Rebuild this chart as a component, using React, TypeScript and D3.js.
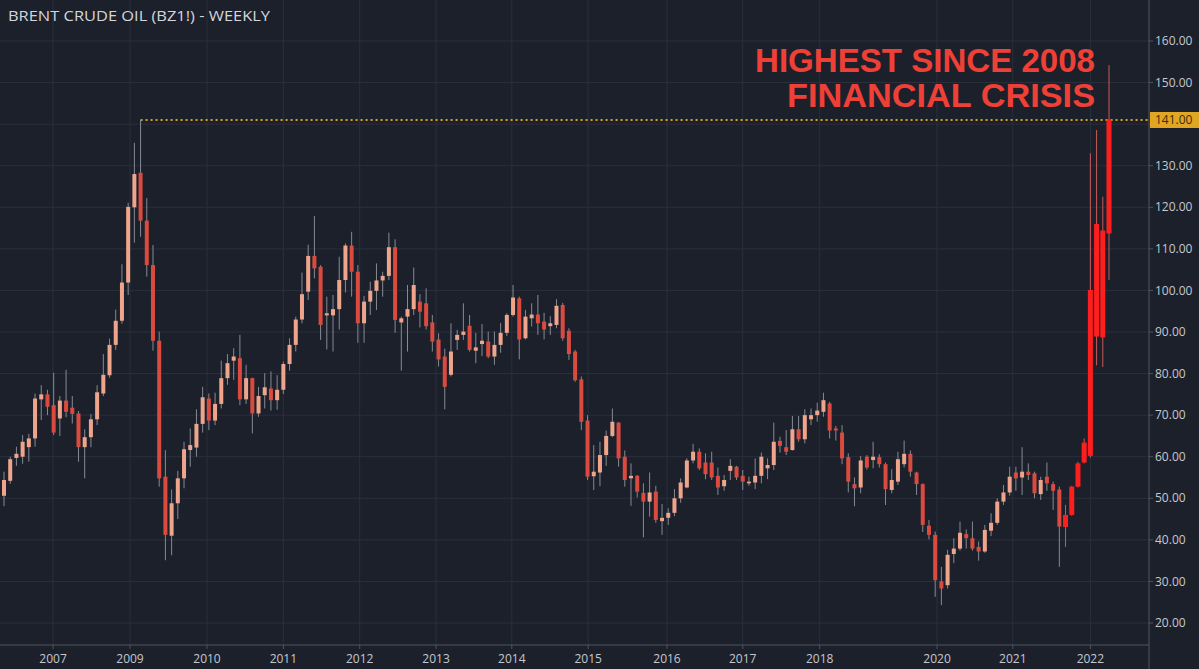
import React from "react";
import * as d3 from "d3";

const opens = [
  50.6, 54.2, 59.7, 60, 62.3, 64.4, 73.8, 75, 72.4, 69.2,
  73.5, 71.8, 70.4, 62.3, 64.7, 69, 75.2, 79.6, 86.9, 92.7,
  101.9, 120, 128.3, 116.8, 106.1, 87.9, 55.2, 41, 48.8, 54.8,
  61.6, 62.2, 67.9, 74, 68.7, 72.7, 78.9, 83.1, 83.7, 73.8,
  78.9, 70.4, 74.8, 76.4, 73.6, 76.1, 82.3, 86.9, 93, 99.7,
  108.3, 105.7, 94, 94, 95.5, 102.5, 110.8, 104.5, 92.1, 97.3,
  99.9, 102.4, 103.5, 110.4, 92.3, 93.7, 95.5, 97.3, 96.9, 92.3,
  88.2, 84.1, 79.7, 88.1, 89.3, 91.5, 85.5, 87.1, 87.7, 84.1,
  86.9, 89.8, 94.1, 98.1, 88.5, 93.3, 94.2, 92.5, 91.4, 91.7,
  96.5, 90.3, 85.3, 78.6, 68.7, 55.3, 56.2, 60.4, 65, 68.2,
  60, 54.8, 55.4, 51.3, 49.2, 51.6, 44.5, 45.3, 46.5, 50,
  52.6, 59.1, 61.2, 58.6, 58.6, 55.4, 52.9, 56.6, 57.6, 55.4,
  53.6, 53.8, 55.4, 57.2, 58, 63.8, 62.3, 61.6, 66.6, 64.2,
  69, 70, 70.8, 72.8, 66.8, 65.8, 59.9, 53.4, 52.6, 60,
  59.2, 59.9, 58.2, 52, 54, 58.2, 60.7, 56.2, 53.4, 43.4,
  41.2, 30, 29.1, 36.6, 37.9, 41.4, 40.4, 38.3, 37.2, 42.2,
  44.1, 49.2, 51.4, 56.2, 55, 56.4, 56, 51, 55.2, 53.4,
  52.1, 43.1, 46, 52.8, 58.6, 60.2, 88.9, 88.7, 113.7,
];
const highs = [
  56.4, 60, 62.4, 65.2, 65.5, 75.2, 77.2, 76.1, 80.2, 74.6,
  80.9, 74.6, 71, 66.6, 70.3, 77.2, 84.7, 88.4, 95.4, 106.3,
  121.1, 135.5, 141, 122.2, 110.9, 90.1, 61.6, 52.1, 56.6, 63.6,
  66.8, 71.4, 76.8, 75.2, 75.4, 83.1, 84.7, 86.1, 89.3, 82.1,
  79, 76.8, 80.1, 80.5, 79.6, 82.9, 88.5, 93.7, 104.3, 111,
  117.9, 106.1, 98.5, 98.9, 108.1, 111.3, 114.1, 106.1, 98.7, 102.1,
  106.5, 104.5, 113.9, 112.3, 93.7, 101.3, 105.5, 99.1, 100.5, 94.1,
  89.7, 86, 92.1, 90.5, 96.9, 94.1, 89.8, 91.9, 90.1, 90.1,
  92.2, 94.5, 101.3, 98.5, 95.3, 96.9, 98.9, 94.6, 93.8, 97.9,
  97, 90.9, 85.7, 79.3, 70, 62.8, 63.6, 66.3, 71.6, 68.3,
  61.5, 58.4, 55.6, 53.6, 56.2, 53, 48.6, 47.6, 52.2, 54.8,
  59.6, 63.1, 62, 60.8, 61.2, 57.4, 55.6, 59.4, 57.8, 56.8,
  55.2, 59.6, 61, 59.6, 68.2, 64.8, 66.4, 69.8, 69.8, 71.4,
  71.6, 73, 75.4, 73.2, 67.4, 67.6, 60.8, 55, 60.2, 60.4,
  63.6, 60.6, 58.6, 57, 61.2, 63.9, 61.5, 56.4, 53.6, 44.8,
  42, 33.5, 37.6, 40.4, 44.4, 42.5, 44.4, 39.6, 43.6, 46.4,
  50, 53.2, 57.6, 57.6, 62.3, 58.4, 56.4, 55.2, 58.6, 54,
  52.8, 48.4, 53, 58.8, 64.4, 133, 138.6, 122.5, 154.2,
];
const lows = [
  48.1, 53.5, 57.8, 58.3, 58.8, 62.4, 68.8, 70, 65.2, 65,
  69.5, 68, 58.8, 54.8, 62.3, 67.6, 74.6, 79, 85.7, 92,
  98.9, 111.5, 112.9, 103.3, 85.5, 52.8, 35.1, 36.3, 45, 52.4,
  57.6, 60, 65.8, 66.4, 67.6, 71.6, 77.3, 78.5, 72.4, 72.7,
  65.6, 69.6, 71.6, 71.1, 71.3, 75.1, 80.7, 85.3, 92.1, 97.7,
  102.9, 88.1, 85.8, 85.3, 90.6, 99.5, 98.5, 87.4, 87.4, 94.1,
  95.3, 98.5, 102.5, 89.8, 80.7, 85.3, 94.1, 91.1, 90.6, 85.3,
  81.7, 71.4, 79.3, 85.7, 88.1, 85.3, 82.5, 84.2, 83.7, 82.1,
  85, 89, 93.7, 83.4, 88.2, 91.3, 89.3, 88.2, 89.3, 90.9,
  87.9, 83.3, 78, 66.4, 54.4, 52, 52.9, 57.8, 64.7, 57.6,
  52.8, 48.2, 50.2, 40.6, 45.6, 44.1, 41.2, 43.6, 45.7, 48.9,
  52.4, 58.4, 56.8, 54.6, 54.4, 50.8, 51.8, 54.4, 54.4, 52,
  53, 52.2, 53.6, 54.6, 56.8, 61, 60.4, 61.5, 63.6, 63.2,
  67.6, 68.4, 69.6, 64.4, 63.9, 58.2, 51.4, 48.1, 51.2, 56.9,
  57.2, 57.4, 48.4, 51.2, 53.2, 57.4, 55.2, 50.8, 41.9, 40.1,
  26.3, 24.3, 28.3, 34.4, 37.4, 37.9, 37.4, 35, 36.9, 40.9,
  43.6, 48.4, 50.6, 51.8, 50.8, 54.4, 50, 49.6, 51.8, 47.2,
  33.5, 38.3, 45.8, 52.6, 58.4, 59.8, 82, 81.6, 102.5,
];
const closes = [
  54.4, 59.4, 60.7, 63.6, 64.4, 74, 75, 72, 65.8, 73.5,
  70.8, 70.3, 62.3, 64.7, 69, 75.5, 79.7, 86.9, 92.7, 101.9,
  120.1, 128, 116.8, 106.1, 87.9, 54.8, 41.2, 48.8, 54.8, 61.8,
  62.8, 67.9, 74.3, 68.7, 72.7, 78.9, 82.5, 84.1, 73.8, 78.9,
  70.4, 74.6, 76.7, 73.6, 76.1, 82.3, 86.9, 93, 99.1, 108.3,
  105.3, 91.7, 94.5, 95.5, 102.5, 110.8, 104.5, 92.1, 97.3, 99.9,
  102.4, 103.5, 110.4, 92.9, 93.3, 95.5, 101.3, 94.9, 91.4, 87.7,
  83.4, 76.8, 85.3, 89.3, 90.1, 85.7, 86.3, 87.9, 84.1, 86.9,
  89.8, 94.1, 98.3, 88.2, 93.7, 94.2, 92.1, 90.6, 92.1, 96.3,
  88.5, 84.7, 78.4, 68.4, 55.2, 56.4, 60.4, 65, 68.4, 59.6,
  54.4, 55.4, 51.6, 49.2, 51.4, 44.8, 45.3, 46.5, 50, 53.8,
  59.1, 61.2, 57.2, 55.8, 55, 52.6, 54.4, 57.8, 55, 54,
  54, 55.4, 60, 58, 63.6, 62.6, 61.2, 66.6, 64.2, 70,
  70, 71.1, 73.6, 66.3, 66.3, 59.6, 54, 52.4, 59.1, 57.4,
  60, 58.2, 52.2, 54.4, 59.4, 60.7, 56.4, 53.4, 43.6, 41.2,
  30.3, 28.3, 36.4, 37.9, 41.7, 40.4, 37.9, 37.2, 42.4, 44.1,
  49.2, 51.4, 55.2, 54.8, 56.4, 55.6, 51.2, 54.4, 53.6, 51.8,
  43.2, 46, 52.8, 58.4, 63.4, 100.1, 116, 114.4, 141.1,
];

const yearLabels = ["2007", "2009", "2010", "2011", "2012", "2013", "2014", "2015", "2016", "2017", "2018", "2020", "2021", "2022"];
const yearTickIdx = [7.9, 20.3, 32.7, 45.0, 57.3, 69.6, 81.8, 94.1, 106.8, 119.0, 131.4, 150.3, 162.5, 175.0];
const priceTicks = [20, 30, 40, 50, 60, 70, 80, 90, 100, 110, 120, 130, 140, 150, 160];
const levelValue = 141;
const levelStartIdx = 22;
const highlightFrom = 171;
const titleText = "BRENT CRUDE OIL (BZ1!) - WEEKLY";
const noteLines = ["HIGHEST SINCE 2008", "FINANCIAL CRISIS"];

const W = 1199;
const H = 669;
const PLOT_R = 1149;
const AXIS_Y = 645;
const NOTE_WIDTHS = [340, 308];

export default function App() {
  const n = opens.length;
  const x = d3.scaleLinear().domain([0, n - 1]).range([4, 1109]);
  const y = d3.scaleLinear().domain([20, 160]).range([623, 41]);
  const idx = d3.range(n);

  const UP = "#eea58b";
  const DOWN = "#db4a3e";
  const HOT = "#ff1e1e";
  const labelBoxTop = y(levelValue) - 8;
  const labelBoxBottom = y(levelValue) + 8;

  return (
    <svg
      width={W}
      height={H}
      style={{ position: "fixed", left: 0, top: 0, display: "block" }}
    >
      <rect x={0} y={0} width={W} height={H} fill="#1c202b" />
      {/* grid */}
      {priceTicks.map((t) => (
        <line key={"hg" + t} x1={0} x2={PLOT_R} y1={y(t)} y2={y(t)} stroke="#2a2f3c" strokeWidth={1} />
      ))}
      {yearTickIdx.map((v, i) => (
        <line key={"vg" + i} x1={x(v)} x2={x(v)} y1={0} y2={AXIS_Y} stroke="#2a2f3c" strokeWidth={1} />
      ))}
      {/* title */}
      <text
        x={8}
        y={21}
        fill="#d4d6dc"
        fontFamily="'Open Sans', 'DejaVu Sans', sans-serif"
        fontSize={15}
        textLength={262}
        lengthAdjust="spacingAndGlyphs"
      >
        {titleText}
      </text>
      {/* level line */}
      <line
        x1={x(levelStartIdx)}
        x2={PLOT_R}
        y1={y(levelValue)}
        y2={y(levelValue)}
        stroke="#d4a21f"
        strokeWidth={2}
        strokeDasharray="2 3"
      />
      {/* candles */}
      {idx.map((i) => {
        const o = opens[i];
        const c = closes[i];
        const hot = i >= highlightFrom;
        const color = hot ? HOT : c >= o ? UP : DOWN;
        const bw = hot ? 5 : 4;
        const cx = x(i);
        const top = y(Math.max(o, c));
        const bot = y(Math.min(o, c));
        return (
          <g key={"c" + i}>
            <line
              x1={cx}
              x2={cx}
              y1={y(highs[i])}
              y2={y(lows[i])}
              stroke={hot ? "#c85a5a" : "#858a95"}
              strokeWidth={1}
            />
            <rect
              x={cx - bw / 2}
              y={top}
              width={bw}
              height={Math.max(1.2, bot - top)}
              fill={color}
            />
          </g>
        );
      })}
      {/* annotation */}
      {noteLines.map((s, i) => (
        <text
          key={"n" + i}
          x={1095}
          y={72 + i * 35}
          textAnchor="end"
          fill="#ee4036"
          fontFamily="'Liberation Sans', Arial, sans-serif"
          fontWeight="bold"
          fontSize={33}
          textLength={NOTE_WIDTHS[i]}
          lengthAdjust="spacingAndGlyphs"
        >
          {s}
        </text>
      ))}
      {/* axes */}
      <line x1={0} x2={PLOT_R} y1={AXIS_Y} y2={AXIS_Y} stroke="#50545f" strokeWidth={1} />
      <line x1={PLOT_R} x2={PLOT_R} y1={0} y2={H} stroke="#50545f" strokeWidth={1} />
      {yearTickIdx.map((v, i) => (
        <g key={"xt" + i}>
          <line x1={x(v)} x2={x(v)} y1={AXIS_Y} y2={AXIS_Y + 4} stroke="#50545f" />
          <text
            x={x(v)}
            y={663}
            textAnchor="middle"
            fill="#c5c8cf"
            fontFamily="'Open Sans', 'DejaVu Sans', sans-serif"
            fontSize={12}
          >
            {yearLabels[i]}
          </text>
        </g>
      ))}
      {priceTicks.map((t) => {
        const hidden = y(t) > labelBoxTop - 6 && y(t) < labelBoxBottom + 6;
        return (
          <g key={"yt" + t}>
            <line x1={PLOT_R} x2={PLOT_R + 4} y1={y(t)} y2={y(t)} stroke="#50545f" />
            {!hidden && (
              <text
                x={1155}
                y={y(t)}
                dy="0.35em"
                fill="#c5c8cf"
                fontFamily="'Open Sans', 'DejaVu Sans', sans-serif"
                fontSize={12}
              >
                {t.toFixed(2)}
              </text>
            )}
          </g>
        );
      })}
      {/* price label */}
      <rect x={PLOT_R + 1} y={labelBoxTop} width={W - PLOT_R - 1} height={16} fill="#e0a624" />
      <text
        x={1155}
        y={y(levelValue)}
        dy="0.35em"
        fill="#3a2d08"
        fontFamily="'Open Sans', 'DejaVu Sans', sans-serif"
        fontSize={12}
      >
        {levelValue.toFixed(2)}
      </text>
    </svg>
  );
}
